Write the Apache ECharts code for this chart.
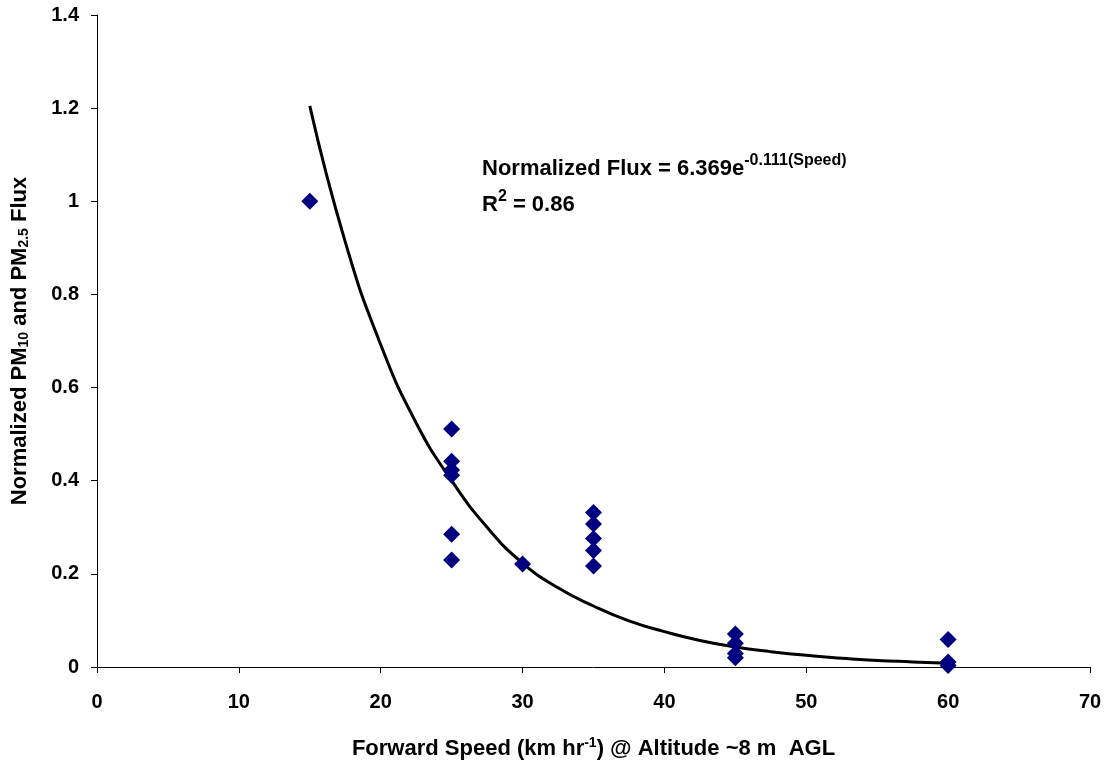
<!DOCTYPE html>
<html><head><meta charset="utf-8">
<script src="https://cdn.jsdelivr.net/npm/echarts@6/dist/echarts.min.js"></script>
<style>html,body{margin:0;padding:0;background:#fff}#c{width:1108px;height:765px}</style>
</head><body><div id="c"></div>
<script>
// Observed data (speed km/h, normalized flux)
const speeds = [15, 25, 25, 25, 25, 25, 25, 30, 35, 35, 35, 35, 35, 45, 45, 45, 45, 60, 60, 60];
const fluxes = [1.0, 0.511, 0.442, 0.423, 0.412, 0.285, 0.230, 0.221, 0.332, 0.307, 0.276, 0.250, 0.217, 0.071, 0.051, 0.029, 0.020, 0.059, 0.011, 0.003];
// Trend line
const trendX = [15, 17.5, 20, 22.5, 25, 27.5, 30, 32.5, 35, 37.5, 40, 42.5, 45, 47.5, 50, 52.5, 55, 57.5, 60];
const trendY = [1.205, 0.913, 0.692, 0.524, 0.400, 0.300, 0.223, 0.170, 0.131, 0.099, 0.076, 0.057, 0.043, 0.033, 0.025, 0.019, 0.014, 0.011, 0.008];

const chart = echarts.init(document.getElementById('c'));
const F = 'Liberation Sans, Arial, sans-serif';
chart.setOption({
  animation: false,
  backgroundColor: '#fff',
  grid: {left: 97, right: 18, top: 15, bottom: 98},
  xAxis: {
    type: 'value', min: 0, max: 70, interval: 10,
    axisLine: {lineStyle: {color: '#000', width: 1}},
    axisTick: {show: true, inside: false, length: 6, lineStyle: {color: '#000'}},
    splitLine: {show: false},
    axisLabel: {color: '#000', fontFamily: F, fontWeight: 'bold', fontSize: 20, margin: 25},
    name: '{b|Forward Speed (km hr}{s|-1}{b|) @ Altitude ~8 m  AGL}',
    nameLocation: 'middle', nameGap: 69,
    nameTextStyle: {rich: {
      b: {fontFamily: F, fontWeight: 'bold', fontSize: 22, color: '#000'},
      s: {fontFamily: F, fontWeight: 'bold', fontSize: 14, color: '#000', verticalAlign: 'top', padding: [0,0,12,0]}
    }}
  },
  yAxis: {
    type: 'value', min: 0, max: 1.4, interval: 0.2,
    axisLine: {show: true, lineStyle: {color: '#000', width: 1}},
    axisTick: {show: true, inside: false, length: 6, lineStyle: {color: '#000'}},
    splitLine: {show: false},
    axisLabel: {color: '#000', fontFamily: F, fontWeight: 'bold', fontSize: 20, margin: 18},
    name: '{b|Normalized PM}{s|10}{b| and PM}{s|2.5}{b| Flux}',
    nameLocation: 'middle', nameGap: 66, nameRotate: 90,
    nameTextStyle: {rich: {
      b: {fontFamily: F, fontWeight: 'bold', fontSize: 22, color: '#000'},
      s: {fontFamily: F, fontWeight: 'bold', fontSize: 14, color: '#000', padding: [8,0,0,0]}
    }}
  },
  graphic: [{
    type: 'text', left: 482, top: 153,
    style: {
      text: '{b|Normalized Flux = 6.369e}{s|-0.111(Speed)}\n{b|R}{s|2}{b| = 0.86}',
      rich: {
        b: {fontFamily: F, fontWeight: 'bold', fontSize: 22, fill: '#000', lineHeight: 36},
        s: {fontFamily: F, fontWeight: 'bold', fontSize: 16, fill: '#000', padding: [0,0,16,0], lineHeight: 36}
      }
    }
  }],
  series: [{
    type: 'line', data: trendX.map((x, i) => [x, trendY[i]]),
    smooth: true, symbol: 'none', lineStyle: {color: '#000', width: 3}, z: 2
  }, {
    type: 'scatter', data: speeds.map((x, i) => [x, fluxes[i]]),
    symbol: 'diamond', symbolSize: 17, itemStyle: {color: '#000080', opacity: 1}, z: 3
  }]
});
</script></body></html>
